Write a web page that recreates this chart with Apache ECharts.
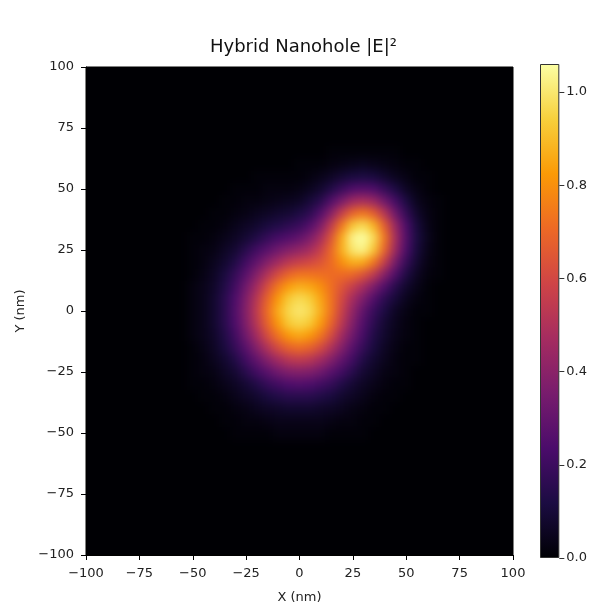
<!DOCTYPE html>
<html>
<head>
<meta charset="utf-8">
<script src="https://cdn.jsdelivr.net/npm/echarts@6/dist/echarts.min.js"></script>
<style>
html,body{margin:0;padding:0;background:#ffffff;}
#wrap{position:relative;width:590px;height:609px;overflow:hidden;}
#clip{position:absolute;left:86px;top:67px;width:427px;height:489px;overflow:hidden;background:#000004;}
#heat{position:absolute;left:-24px;top:-24px;width:475px;height:537px;filter:blur(5px);}
#main{position:absolute;left:0;top:0;width:590px;height:609px;}
</style>
</head>
<body>
<div id="wrap">
  <div id="clip"><div id="heat"></div></div>
  <div id="main"></div>
</div>
<script>
// ---- data ----
// cell centres (nm); field is black (≈0) outside this window
const xCenters = [-50,-45,-40,-35,-30,-25,-20,-15,-10,-5,0,5,10,15,20,25,30,35,40,45,50,55,60,65];
const yCenters = [65,60,55,50,45,40,35,30,25,20,15,10,5,0,-5,-10,-15,-20,-25,-30,-35,-40,-45,-50];
// |E|^2 values, one row per y centre (top row first), one column per x centre
const fieldRows = [
  [0,0,0,0,0,0,0,0,0,0,0,0,0,.01,.01,.01,.01,.01,.01,.01,0,0,0,0],
  [0,0,0,0,0,0,0,0,0,0,.01,.01,.01,.02,.03,.04,.05,.04,.03,.02,.01,.01,0,0],
  [0,0,0,0,0,0,.01,.01,.01,.01,.01,.02,.04,.06,.09,.11,.12,.11,.08,.05,.03,.01,.01,0],
  [0,0,0,0,.01,.01,.01,.02,.02,.02,.03,.05,.08,.13,.19,.24,.26,.24,.18,.12,.06,.03,.01,0],
  [0,0,0,.01,.01,.02,.02,.03,.04,.05,.06,.10,.15,.25,.35,.45,.48,.44,.33,.22,.12,.05,.02,.01],
  [0,0,.01,.01,.02,.03,.05,.06,.08,.09,.12,.16,.25,.39,.56,.69,.74,.67,.52,.33,.18,.08,.03,.01],
  [0,.01,.01,.02,.04,.06,.08,.11,.13,.16,.19,.25,.36,.54,.74,.92,.97,.88,.67,.44,.24,.11,.04,.01],
  [.01,.01,.02,.04,.06,.09,.13,.18,.22,.25,.29,.36,.47,.64,.86,1.03,1.08,.97,.74,.48,.26,.12,.05,.01],
  [.01,.02,.03,.06,.09,.15,.21,.27,.33,.38,.42,.47,.56,.70,.87,1.00,1.03,.92,.69,.45,.24,.11,.04,.01],
  [.01,.02,.05,.08,.13,.21,.29,.38,.46,.53,.57,.60,.64,.71,.80,.87,.86,.74,.56,.35,.19,.09,.03,.01],
  [.01,.03,.06,.11,.18,.27,.38,.50,.61,.69,.73,.73,.72,.71,.71,.70,.64,.54,.39,.25,.13,.06,.02,.01],
  [.02,.04,.07,.13,.21,.33,.46,.61,.74,.83,.87,.85,.80,.72,.64,.56,.47,.36,.25,.15,.08,.04,.01,0],
  [.02,.04,.08,.15,.24,.37,.52,.68,.82,.93,.97,.94,.85,.73,.60,.47,.36,.25,.16,.10,.05,.02,.01,0],
  [.02,.04,.08,.15,.25,.38,.54,.71,.86,.96,1.00,.97,.87,.73,.57,.42,.29,.19,.12,.06,.03,.01,.01,0],
  [.02,.04,.08,.15,.24,.37,.52,.68,.82,.93,.96,.93,.83,.69,.53,.38,.25,.16,.09,.05,.02,.01,0,0],
  [.02,.04,.07,.13,.21,.33,.46,.61,.73,.82,.86,.82,.74,.61,.46,.33,.22,.13,.08,.04,.02,.01,0,0],
  [.01,.03,.06,.11,.18,.27,.38,.50,.61,.68,.71,.68,.61,.50,.38,.27,.18,.11,.06,.03,.01,.01,0,0],
  [.01,.02,.05,.08,.13,.21,.29,.38,.46,.52,.54,.52,.46,.38,.29,.21,.13,.08,.05,.02,.01,.01,0,0],
  [.01,.02,.03,.06,.09,.15,.21,.27,.33,.37,.38,.37,.33,.27,.21,.15,.09,.06,.03,.02,.01,0,0,0],
  [.01,.01,.02,.04,.06,.09,.13,.18,.21,.24,.25,.24,.21,.18,.13,.09,.06,.04,.02,.01,.01,0,0,0],
  [0,.01,.01,.02,.04,.06,.08,.11,.13,.15,.15,.15,.13,.11,.08,.06,.04,.02,.01,.01,0,0,0,0],
  [0,0,.01,.01,.02,.03,.05,.06,.07,.08,.08,.08,.07,.06,.05,.03,.02,.01,.01,0,0,0,0,0],
  [0,0,0,.01,.01,.02,.02,.03,.04,.04,.04,.04,.04,.03,.02,.02,.01,.01,0,0,0,0,0,0],
  [0,0,0,0,.01,.01,.01,.01,.02,.02,.02,.02,.02,.01,.01,.01,.01,0,0,0,0,0,0,0]
];
const axisTicks = [-100,-75,-50,-25,0,25,50,75,100];
const colorbarTicks = [0,0.2,0.4,0.6,0.8,1.0];
const colorbarMax = 1.06;
const infernoColors = ['#000004','#1b0c42','#4b0c6b','#781c6d','#a52c60','#cf4446','#ed6925','#fb9a06','#f7d03c','#fcffa4'];

// ---- build series data from the arrays ----
const heatData = [];
yCenters.forEach((y, i) => {
  xCenters.forEach((x, j) => { heatData.push([x, y, fieldRows[i][j]]); });
});
const halfX = (xCenters[1] - xCenters[0]) / 2;
const halfY = (yCenters[0] - yCenters[1]) / 2;

const FONT = 'DejaVu Sans';
const minus = v => String(v).replace('-', '\u2212');

// ---- heat map layer ----
const heat = echarts.init(document.getElementById('heat'), null, {renderer: 'canvas'});
heat.setOption({
  animation: false,
  backgroundColor: '#000004',
  grid: {left: 24, top: 24, width: 427, height: 489, show: false},
  xAxis: {type: 'value', min: axisTicks[0], max: axisTicks[axisTicks.length - 1], show: false},
  yAxis: {type: 'value', min: axisTicks[0], max: axisTicks[axisTicks.length - 1], show: false},
  visualMap: {
    type: 'continuous', show: false, min: 0, max: colorbarMax, dimension: 2, seriesIndex: 0,
    inRange: {color: infernoColors}
  },
  series: [{
    type: 'custom',
    silent: true,
    data: heatData,
    renderItem: function (params, api) {
      const x = api.value(0), y = api.value(1);
      const p0 = api.coord([x - halfX, y + halfY]);
      const p1 = api.coord([x + halfX, y - halfY]);
      return {
        type: 'rect',
        shape: {x: p0[0] - 0.5, y: p0[1] - 0.5, width: p1[0] - p0[0] + 1, height: p1[1] - p0[1] + 1},
        style: {fill: api.visual('color')}
      };
    }
  }]
});

// ---- axes, title, colorbar layer ----
const stops = infernoColors.map((c, i) => ({offset: i / (infernoColors.length - 1), color: c}));
const isTick = v => colorbarTicks.some(t => Math.abs(t - v) < 1e-6);
const main = echarts.init(document.getElementById('main'), null, {renderer: 'canvas'});
const labelStyle = {fontFamily: FONT, fontSize: 13, color: '#222'};
main.setOption({
  animation: false,
  backgroundColor: 'transparent',
  title: {
    text: 'Hybrid Nanohole |E|\u00b2',
    left: 210, top: 38, padding: 0,
    textStyle: {fontFamily: FONT, fontSize: 18, fontWeight: 'normal', color: '#111'}
  },
  grid: [
    {left: 86, top: 67, width: 427, height: 489, show: true, borderColor: '#000', borderWidth: 1, backgroundColor: 'transparent'},
    {left: 540, top: 64, width: 22, height: 494, show: false}
  ],
  xAxis: [
    {
      type: 'value', gridIndex: 0, min: axisTicks[0], max: axisTicks[axisTicks.length - 1], interval: 25,
      axisLine: {show: true, onZero: false, lineStyle: {color: '#000'}},
      axisTick: {show: true, length: 5, lineStyle: {color: '#000'}},
      axisLabel: Object.assign({margin: 12, formatter: minus}, labelStyle),
      splitLine: {show: false},
      name: 'X (nm)', nameLocation: 'middle', nameGap: 36,
      nameTextStyle: {fontFamily: FONT, fontSize: 13, color: '#222'}
    },
    {type: 'category', gridIndex: 1, data: ['colorbar'], show: false}
  ],
  yAxis: [
    {
      type: 'value', gridIndex: 0, min: axisTicks[0], max: axisTicks[axisTicks.length - 1], interval: 25,
      axisLine: {show: true, onZero: false, lineStyle: {color: '#000'}},
      axisTick: {show: true, length: 5, lineStyle: {color: '#000'}},
      axisLabel: Object.assign({margin: 12, formatter: minus}, labelStyle),
      splitLine: {show: false},
      name: 'Y (nm)', nameLocation: 'middle', nameGap: 56, nameRotate: 90,
      nameTextStyle: {fontFamily: FONT, fontSize: 13, color: '#222'}
    },
    {
      type: 'value', gridIndex: 1, min: 0, max: colorbarMax, interval: 0.2, position: 'right',
      axisLine: {show: false},
      axisTick: {show: true, length: 5, customValues: colorbarTicks, lineStyle: {color: '#333'}},
      axisLabel: Object.assign({margin: 7, customValues: colorbarTicks,
        formatter: v => isTick(v) ? v.toFixed(1) : ''}, labelStyle),
      splitLine: {show: false}
    }
  ],
  series: [{
    type: 'bar', xAxisIndex: 1, yAxisIndex: 1, silent: true,
    data: [colorbarMax], barWidth: '100%',
    itemStyle: {
      color: new echarts.graphic.LinearGradient(0, 1, 0, 0, stops),
      borderColor: '#333', borderWidth: 1
    }
  }]
});
</script>
</body>
</html>
